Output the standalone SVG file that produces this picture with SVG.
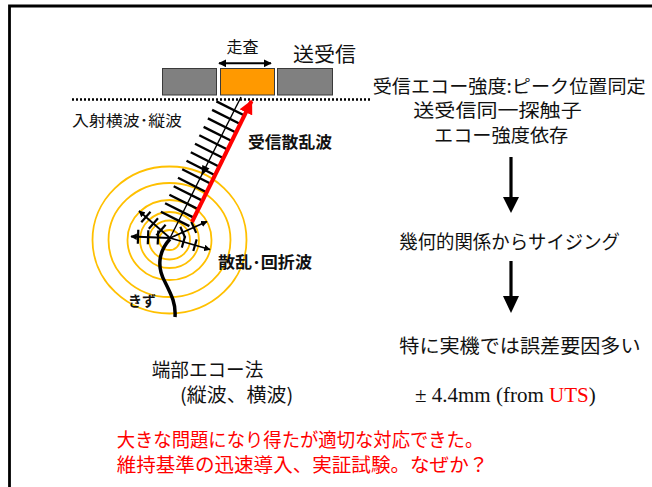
<svg xmlns="http://www.w3.org/2000/svg" width="652" height="487" viewBox="0 0 652 487">
  <defs>
    <style>
      .jp { font-family: "Noto Sans CJK JP", "Noto Sans", sans-serif; fill: #111; }
      .jpb { font-family: "Noto Sans CJK JP", "Noto Sans", sans-serif; fill: #111; font-weight: bold; }
      .red { fill: #ff0000; }
      .ring { fill: none; stroke: #ffc000; stroke-width: 1.8; }
      .hatch { stroke: #000; stroke-width: 2.4; stroke-linecap: butt; }
      .tick { stroke: #000; stroke-width: 2.2; }
      .probe { stroke: #3a3a3a; stroke-width: 1; }
    </style>
    <marker id="headBlack" viewBox="0 0 10 10" refX="9" refY="5" markerWidth="4" markerHeight="4" orient="auto-start-reverse" markerUnits="strokeWidth">
      <path d="M0,0 L10,5 L0,10 z" fill="#000"/>
    </marker>
    <marker id="headSmall" viewBox="0 0 10 10" refX="9" refY="5" markerWidth="3.6" markerHeight="3.6" orient="auto" markerUnits="strokeWidth">
      <path d="M0,0 L10,5 L0,10 z" fill="#000"/>
    </marker>
    <marker id="headRed" viewBox="0 0 10 10" refX="9" refY="5" markerWidth="3.5" markerHeight="3.5" orient="auto" markerUnits="strokeWidth">
      <path d="M0,0 L10,5 L0,10 z" fill="#ff0000"/>
    </marker>
  </defs>

  <rect x="0" y="0" width="652" height="487" fill="#ffffff"/>
  <!-- slide frame -->
  <path d="M9.5,487 V6 H652" fill="none" stroke="#000" stroke-width="2.8"/>

  <!-- probe array -->
  <g id="probe">
    <rect class="probe" x="162.5" y="68.5" width="54" height="26.5" fill="#808080"/>
    <rect class="probe" x="220.5" y="68.5" width="54" height="26.5" fill="#ff9900"/>
    <rect class="probe" x="277.5" y="68.5" width="55" height="26.5" fill="#808080"/>
    <text class="jp" x="242.5" y="53" font-size="16" text-anchor="middle">走査</text>
    <text class="jp" x="293" y="62" font-size="20" textLength="63" lengthAdjust="spacingAndGlyphs">送受信</text>
  </g>

  <!-- surface -->
  <g id="surface">
    <line x1="72" y1="99.5" x2="370" y2="99.5" stroke="#000" stroke-width="2.6" stroke-dasharray="2 2"/>
    <text class="jp" x="72" y="126" font-size="15" textLength="110" lengthAdjust="spacingAndGlyphs">入射横波･縦波</text>
  </g>

  <!-- scattering rings around crack tip -->
  <g id="rings">
    <ellipse class="ring" cx="169.5" cy="240" rx="10.5" ry="10"/>
    <ellipse class="ring" cx="169.5" cy="240" rx="20.5" ry="19.5"/>
    <ellipse class="ring" cx="169.5" cy="240" rx="29.5" ry="28"/>
    <ellipse class="ring" cx="169.5" cy="240" rx="42" ry="40"/>
    <ellipse class="ring" cx="169.5" cy="240" rx="61" ry="57"/>
    <ellipse class="ring" cx="169.5" cy="240" rx="77" ry="73.5"/>
  </g>

  <!-- crack -->
  <g id="crack">
    <path d="M170,239 C158,252 157,268 165,282 C172,296 176,304 175,317" fill="none" stroke="#000" stroke-width="3.5"/>
    <text class="jpb" x="128" y="305.5" font-size="14" textLength="28" lengthAdjust="spacingAndGlyphs">きず</text>
  </g>

  <g id="connectors">
    <!-- incident beam with wavefronts -->
    <line x1="241" y1="97" x2="170" y2="238" stroke="#000" stroke-width="1.4"/>
    <g class="hatch">
      <line x1="216.4" y1="101.4" x2="245.0" y2="115.8"/>
      <line x1="212.1" y1="109.9" x2="240.7" y2="124.3"/>
      <line x1="207.9" y1="118.4" x2="236.4" y2="132.8"/>
      <line x1="203.6" y1="126.9" x2="232.2" y2="141.3"/>
      <line x1="199.3" y1="135.3" x2="227.9" y2="149.7"/>
      <line x1="195.0" y1="143.8" x2="223.6" y2="158.2"/>
      <line x1="190.8" y1="152.3" x2="219.3" y2="166.7"/>
      <line x1="186.5" y1="160.8" x2="215.1" y2="175.2"/>
      <line x1="182.2" y1="169.3" x2="210.8" y2="183.7"/>
      <line x1="178.0" y1="177.8" x2="206.5" y2="192.2"/>
      <line x1="173.7" y1="186.3" x2="202.3" y2="200.6"/>
      <line x1="169.4" y1="194.7" x2="198.0" y2="209.1"/>
      <line x1="165.1" y1="203.2" x2="193.7" y2="217.6"/>
      <line x1="160.9" y1="211.7" x2="189.4" y2="226.1"/>
    </g>
    <polygon points="201.4,175.6 209.5,168.5 202.3,164.9" fill="#000"/>

    <!-- scattered / diffracted waves -->
    <g stroke="#000" stroke-width="1.8" fill="none">
      <line x1="170" y1="238" x2="139" y2="211" marker-end="url(#headSmall)"/>
      <line x1="170" y1="238" x2="131" y2="236.5" marker-end="url(#headSmall)"/>
      <line x1="170" y1="238" x2="210" y2="249.5" marker-end="url(#headSmall)"/>
      <line x1="170" y1="238" x2="207" y2="221.5" marker-end="url(#headSmall)"/>
    </g>
    <g class="tick">
      <line x1="156.4" y1="235.4" x2="165.6" y2="224.8"/>
      <line x1="148.8" y1="228.8" x2="158.0" y2="218.3"/>
      <line x1="141.3" y1="222.3" x2="150.5" y2="211.7"/>
      <line x1="157.7" y1="244.5" x2="158.3" y2="230.5"/>
      <line x1="147.8" y1="244.2" x2="148.3" y2="230.2"/>
      <line x1="137.8" y1="243.8" x2="138.3" y2="229.8"/>
      <line x1="181.8" y1="247.6" x2="185.1" y2="236.1"/>
      <line x1="193.3" y1="251.0" x2="196.7" y2="239.4"/>
      <line x1="180.3" y1="226.8" x2="185.2" y2="237.8"/>
      <line x1="191.3" y1="221.9" x2="196.2" y2="232.9"/>
    </g>

    <!-- received scattered wave -->
    <line x1="192" y1="222" x2="251.5" y2="101" stroke="#ff0000" stroke-width="4" marker-end="url(#headRed)"/>

    <!-- scan direction -->
    <line x1="219" y1="63.3" x2="271" y2="63.3" stroke="#000" stroke-width="2" marker-start="url(#headBlack)" marker-end="url(#headBlack)"/>

    <!-- flow arrows -->
    <line x1="511" y1="157" x2="511" y2="198" stroke="#000" stroke-width="3.2"/>
    <polygon points="503,197 519,197 511,213" fill="#000"/>
    <line x1="511" y1="261" x2="511" y2="297" stroke="#000" stroke-width="3.2"/>
    <polygon points="503,296 519,296 511,313" fill="#000"/>
  </g>

  <!-- wave labels -->
  <g id="labels">
    <text class="jpb" x="248" y="148" font-size="16" textLength="84" lengthAdjust="spacingAndGlyphs">受信散乱波</text>
    <text class="jpb" x="218" y="267.5" font-size="16" textLength="94" lengthAdjust="spacingAndGlyphs">散乱･回折波</text>
  </g>

  <!-- right column -->
  <g id="step1">
    <text class="jp" x="372.7" y="93.3" font-size="18.5" textLength="273" lengthAdjust="spacingAndGlyphs">受信エコー強度:ピーク位置同定</text>
    <text class="jp" x="413.3" y="117.3" font-size="18.5" textLength="168.4" lengthAdjust="spacingAndGlyphs">送受信同一探触子</text>
    <text class="jp" x="434" y="141.7" font-size="18.5" textLength="134.3" lengthAdjust="spacingAndGlyphs">エコー強度依存</text>
  </g>
  <g id="step2">
    <text class="jp" x="399.3" y="249.3" font-size="19" textLength="220.7" lengthAdjust="spacingAndGlyphs">幾何的関係からサイジング</text>
  </g>
  <g id="step3">
    <text class="jp" x="399.3" y="353.3" font-size="19" textLength="241.3" lengthAdjust="spacingAndGlyphs">特に実機では誤差要因多い</text>
  </g>
  <g id="accuracy">
    <text x="415" y="402.3" font-family="'Liberation Serif', 'Times New Roman', serif" font-size="21" fill="#111">± 4.4mm (from <tspan fill="#ff0000">UTS</tspan>)</text>
  </g>

  <!-- method name -->
  <g id="method">
    <text class="jp" x="151.7" y="376.7" font-size="19" textLength="111.6" lengthAdjust="spacingAndGlyphs">端部エコー法</text>
    <text class="jp" x="180" y="401.7" font-size="19" textLength="113.3" lengthAdjust="spacingAndGlyphs">(縦波、横波)</text>
  </g>

  <!-- remark -->
  <g id="remark">
    <text class="jp red" x="116.7" y="446.7" font-size="19" textLength="366.6" lengthAdjust="spacingAndGlyphs">大きな問題になり得たが適切な対応できた。</text>
    <text class="jp red" x="116.7" y="471.7" font-size="19" textLength="371.6" lengthAdjust="spacingAndGlyphs">維持基準の迅速導入、実証試験。なぜか？</text>
  </g>
</svg>
